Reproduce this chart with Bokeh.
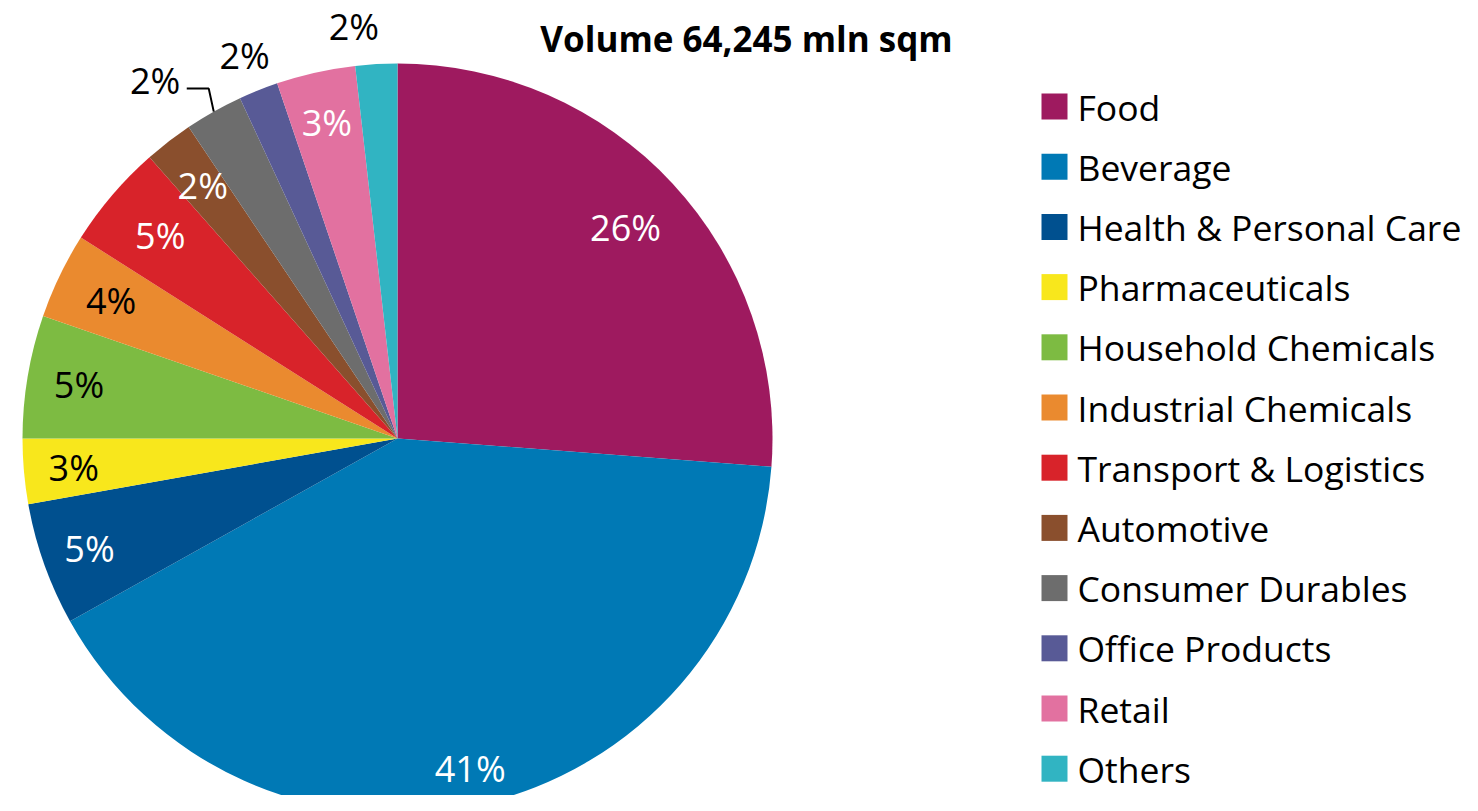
import math
from bokeh.plotting import figure
from bokeh.models import ColumnDataSource, Range1d
from bokeh.core.properties import value
from bokeh.embed import file_html
from bokeh.resources import INLINE

# ---------------- data ----------------
categories = ["Food", "Beverage", "Health & Personal Care", "Pharmaceuticals",
              "Household Chemicals", "Industrial Chemicals", "Transport & Logistics",
              "Automotive", "Consumer Durables", "Office Products", "Retail", "Others"]
shares = [26.2, 40.7, 5.3, 2.8, 5.3, 3.7, 4.5, 2.1, 2.5, 1.7, 3.4, 1.8]
pct_labels = ["26%", "41%", "5%", "3%", "5%", "4%", "5%", "2%", "2%", "2%", "3%", "2%"]
title_text = "Volume 64,245 mln sqm"

# ---------------- styles / layout ----------------
colors = ["#9E1A5F", "#0079B5", "#00508F", "#F8E71C", "#7DBB42", "#EA8A2F",
          "#D8232A", "#8A4F2D", "#6D6D6D", "#585A96", "#E271A0", "#31B4C2"]
label_colors = ["white", "white", "white", "black", "black", "black",
                "white", "white", "black", "black", "white", "black"]
label_radius = [311, 338, 327, 325, 323, 318, 312, 319, 432, 412, 324, 414]
label_nudge_deg = [0, 0, 0, 0, 0, 0, 0, 0, -4.8, 0, 0, -2.8]

FONT = "Open Sans"
W, H = 1462, 795


def Y(sy):
    """screen y (pixels from top of canvas) -> data y"""
    return H - sy


CX, CY, R = 397, 438, 375

p = figure(width=W, height=H, output_backend="svg", toolbar_location=None,
           x_range=Range1d(0, W), y_range=Range1d(0, H),
           min_border=0, outline_line_color=None)
p.axis.visible = False
p.grid.visible = False
p.background_fill_color = "white"
p.border_fill_color = "white"

total = sum(shares)
cum = 0.0
starts, ends, mids = [], [], []
for s in shares:
    a0 = math.pi / 2 - 2 * math.pi * cum / total
    cum += s
    a1 = math.pi / 2 - 2 * math.pi * cum / total
    starts.append(a1)
    ends.append(a0)
    mids.append((a0 + a1) / 2)

src = ColumnDataSource(dict(x=[CX] * len(shares), y=[Y(CY)] * len(shares),
                            start=starts, end=ends, color=colors, cat=categories))
p.wedge(x="x", y="y", radius=R, start_angle="start", end_angle="end",
        direction="anticlock", fill_color="color", line_color=None, source=src)

# percentage labels
lx, ly = [], []
for m, r, n in zip(mids, label_radius, label_nudge_deg):
    a = m - math.radians(n)
    lx.append(CX + r * math.cos(a))
    ly.append(Y(CY) + r * math.sin(a))
lsrc = ColumnDataSource(dict(x=lx, y=ly, t=pct_labels, c=label_colors))
p.text(x="x", y="y", text="t", text_color="c", source=lsrc,
       text_font=value(FONT), text_font_size="36px",
       text_align="center", text_baseline="middle")

# leader line for Consumer Durables label
ci = categories.index("Consumer Durables")
ex = CX + R * math.cos(mids[ci])
ey = Y(CY) + R * math.sin(mids[ci])
p.line(x=[ex - 27, ex - 5, ex], y=[ey + 23, ey + 23, ey],
       line_color="black", line_width=2)

# title
p.text(x=[746], y=[Y(38)], text=[title_text], text_font=value(FONT),
       text_font_style="bold", text_font_size="35px", text_color="black",
       text_align="center", text_baseline="middle")

# legend
rows = list(range(len(categories)))
leg_y = [Y(106 + 60.2 * i) for i in rows]
p.rect(x=[1054] * len(rows), y=leg_y, width=26, height=26,
       fill_color=colors, line_color=None)
p.text(x=[1077] * len(rows), y=leg_y, text=categories, text_font=value(FONT),
       text_font_size="35.5px", text_color="black", text_align="left",
       text_baseline="middle")

open("out.html", "w").write(file_html(p, INLINE))
